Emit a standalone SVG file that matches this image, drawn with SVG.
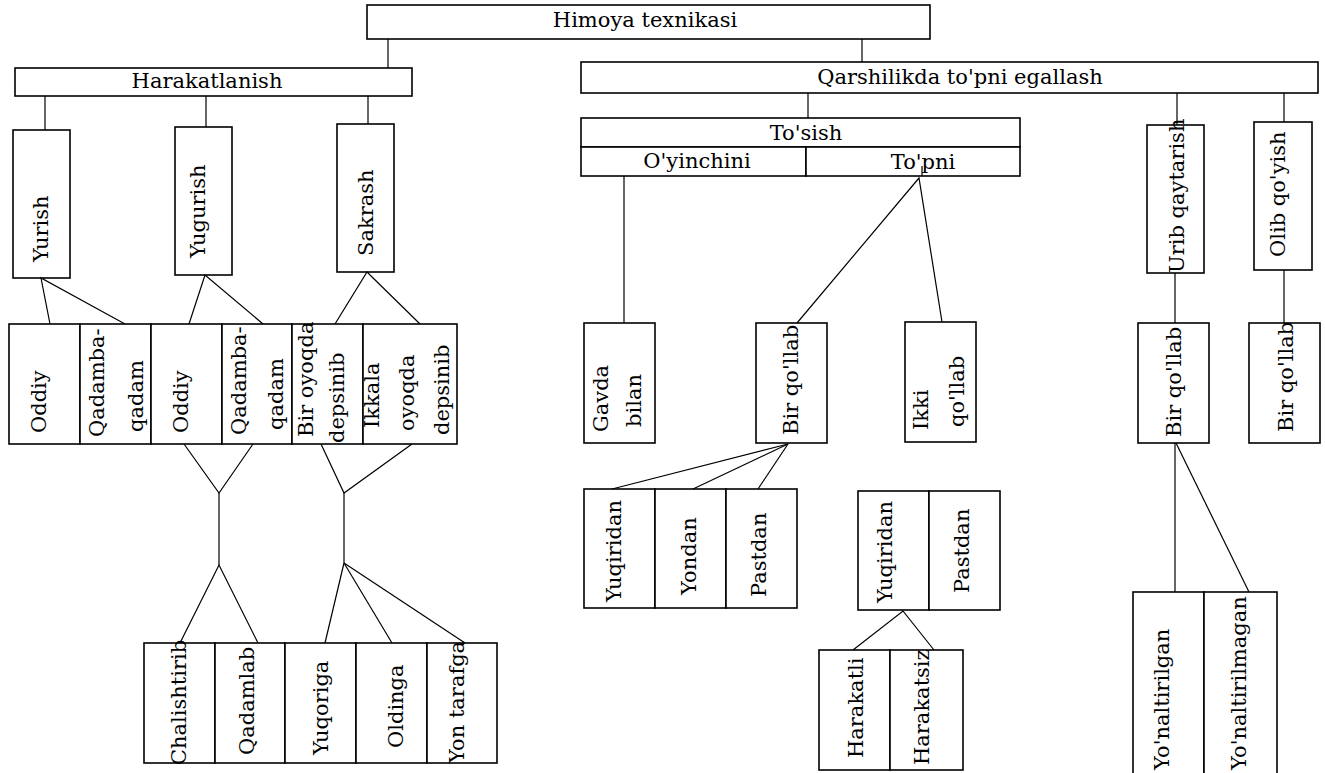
<svg xmlns="http://www.w3.org/2000/svg" width="1325" height="773" viewBox="0 0 1325 773">
<style>
.box{fill:#fff;stroke:#000;stroke-width:1.6}
.ln{stroke:#000;stroke-width:1.2;fill:none}
.t{font-family:"DejaVu Serif","Liberation Serif",serif;font-size:21px;fill:#000}
.c{text-anchor:middle}
</style>
<rect width="1325" height="773" fill="#fff"/>
<g id="n-himoya"><rect class="box" x="367" y="5" width="563" height="34"/><text class="t c" x="645" y="27">Himoya texnikasi</text></g>
<g id="n-harakatlanish"><rect class="box" x="15" y="68" width="397" height="28"/><text class="t c" x="207" y="88">Harakatlanish</text></g>
<g id="n-qarshilikda"><rect class="box" x="581" y="62" width="737" height="31"/><text class="t c" x="960" y="84">Qarshilikda to'pni egallash</text></g>
<g id="n-yurish"><rect class="box" x="13" y="130" width="57" height="148"/><text class="t" transform="translate(48,262) rotate(-90)">Yurish</text></g>
<g id="n-yugurish"><rect class="box" x="175" y="127" width="57" height="148"/><text class="t" transform="translate(205,258) rotate(-90)">Yugurish</text></g>
<g id="n-sakrash"><rect class="box" x="337" y="124" width="57" height="148"/><text class="t" transform="translate(373,256) rotate(-90)">Sakrash</text></g>
<g id="n-a1"><rect class="box" x="9" y="324" width="71" height="120"/><text class="t" transform="translate(46,433) rotate(-90)">Oddiy</text></g>
<g id="n-a2"><rect class="box" x="80" y="324" width="71" height="120"/><text class="t" transform="translate(104,437) rotate(-90)">Qadamba-</text><text class="t" transform="translate(143,432) rotate(-90)">qadam</text></g>
<g id="n-a3"><rect class="box" x="151" y="324" width="71" height="120"/><text class="t" transform="translate(188,433) rotate(-90)">Oddiy</text></g>
<g id="n-a4"><rect class="box" x="222" y="324" width="70" height="120"/><text class="t" transform="translate(246,435) rotate(-90)">Qadamba-</text><text class="t" transform="translate(283,430) rotate(-90)">qadam</text></g>
<g id="n-a5"><rect class="box" x="292" y="324" width="71" height="120"/><text class="t" transform="translate(313,437) rotate(-90)">Bir oyoqda</text><text class="t" transform="translate(344,443) rotate(-90)">depsinib</text></g>
<g id="n-a6"><rect class="box" x="363" y="324" width="94" height="120"/><text class="t" transform="translate(379,428) rotate(-90)">Ikkala</text><text class="t" transform="translate(414,431) rotate(-90)">oyoqda</text><text class="t" transform="translate(449,435) rotate(-90)">depsinib</text></g>
<g id="n-b1"><rect class="box" x="144" y="643" width="71" height="120"/><text class="t" transform="translate(186,765) rotate(-90)">Chalishtirib</text></g>
<g id="n-b2"><rect class="box" x="215" y="643" width="70" height="120"/><text class="t" transform="translate(254,755) rotate(-90)">Qadamlab</text></g>
<g id="n-b3"><rect class="box" x="285" y="643" width="71" height="120"/><text class="t" transform="translate(328,755) rotate(-90)">Yuqoriga</text></g>
<g id="n-b4"><rect class="box" x="356" y="643" width="71" height="120"/><text class="t" transform="translate(403,748) rotate(-90)">Oldinga</text></g>
<g id="n-b5"><rect class="box" x="427" y="643" width="70" height="120"/><text class="t" transform="translate(464,763) rotate(-90)">Yon tarafga</text></g>
<g id="n-tosish"><rect class="box" x="581" y="118" width="439" height="29"/><text class="t c" x="806" y="140">To'sish</text></g>
<g id="n-oyinchini"><rect class="box" x="581" y="147" width="225" height="29"/><text class="t c" x="697" y="168">O'yinchini</text></g>
<g id="n-topni"><rect class="box" x="806" y="147" width="214" height="29"/><text class="t c" x="923" y="169">To'pni</text></g>
<g id="n-gavda"><rect class="box" x="584" y="323" width="71" height="120"/><text class="t" transform="translate(608,432) rotate(-90)">Gavda</text><text class="t" transform="translate(641,427) rotate(-90)">bilan</text></g>
<g id="n-birqollab1"><rect class="box" x="756" y="323" width="71" height="120"/><text class="t" transform="translate(798,435) rotate(-90)">Bir qo'llab</text></g>
<g id="n-ikki"><rect class="box" x="905" y="322" width="71" height="120"/><text class="t" transform="translate(928,430) rotate(-90)">Ikki</text><text class="t" transform="translate(964,427) rotate(-90)">qo'llab</text></g>
<g id="n-c1"><rect class="box" x="584" y="489" width="71" height="119"/><text class="t" transform="translate(621,602) rotate(-90)">Yuqiridan</text></g>
<g id="n-c2"><rect class="box" x="655" y="489" width="71" height="119"/><text class="t" transform="translate(696,595) rotate(-90)">Yondan</text></g>
<g id="n-c3"><rect class="box" x="726" y="489" width="71" height="119"/><text class="t" transform="translate(766,597) rotate(-90)">Pastdan</text></g>
<g id="n-d1"><rect class="box" x="858" y="491" width="71" height="119"/><text class="t" transform="translate(892,603) rotate(-90)">Yuqiridan</text></g>
<g id="n-d2"><rect class="box" x="929" y="491" width="71" height="119"/><text class="t" transform="translate(969,593) rotate(-90)">Pastdan</text></g>
<g id="n-e1"><rect class="box" x="819" y="650" width="71" height="120"/><text class="t" transform="translate(863,758) rotate(-90)">Harakatli</text></g>
<g id="n-e2"><rect class="box" x="890" y="650" width="73" height="120"/><text class="t" transform="translate(929,765) rotate(-90)">Harakatsiz</text></g>
<g id="n-urib"><rect class="box" x="1147" y="125" width="57" height="148"/><text class="t" transform="translate(1184,273) rotate(-90)">Urib qaytarish</text></g>
<g id="n-olib"><rect class="box" x="1254" y="122" width="58" height="148"/><text class="t" transform="translate(1285,257) rotate(-90)">Olib qo'yish</text></g>
<g id="n-birqollab2"><rect class="box" x="1138" y="323" width="71" height="120"/><text class="t" transform="translate(1181,437) rotate(-90)">Bir qo'llab</text></g>
<g id="n-birqollab3"><rect class="box" x="1249" y="323" width="71" height="120"/><text class="t" transform="translate(1293,432) rotate(-90)">Bir qo'llab</text></g>
<g id="n-f1"><rect class="box" x="1133" y="592" width="71" height="190"/><text class="t" transform="translate(1169,770) rotate(-90)">Yo'naltirilgan</text></g>
<g id="n-f2"><rect class="box" x="1204" y="592" width="73" height="190"/><text class="t" transform="translate(1246,770) rotate(-90)">Yo'naltirilmagan</text></g>
<g id="connectors" class="ln">
<line x1="388" y1="39" x2="388" y2="68"/>
<line x1="862" y1="39" x2="862" y2="62"/>
<line x1="45" y1="96" x2="45" y2="130"/>
<line x1="206" y1="96" x2="206" y2="127"/>
<line x1="368" y1="96" x2="368" y2="124"/>
<polyline points="50,324 41,278 125,324"/>
<polyline points="189,324 205,275 263,324"/>
<polyline points="335,324 367,272 420,324"/>
<polyline points="184,444 219,493 253,444"/>
<line x1="219" y1="493" x2="219" y2="565"/>
<polyline points="180,643 219,565 258,643"/>
<polyline points="321,444 344,493 412,444"/>
<line x1="344" y1="493" x2="344" y2="563"/>
<line x1="344" y1="563" x2="325" y2="643"/>
<line x1="344" y1="563" x2="392" y2="643"/>
<line x1="344" y1="563" x2="465" y2="643"/>
<line x1="808" y1="93" x2="808" y2="118"/>
<line x1="624" y1="176" x2="624" y2="323"/>
<line x1="922" y1="166" x2="922" y2="176"/>
<polyline points="797,323 919,178 942,322"/>
<line x1="788" y1="444" x2="612" y2="489"/>
<line x1="788" y1="444" x2="693" y2="489"/>
<line x1="788" y1="444" x2="758" y2="489"/>
<polyline points="853,650 903,611 934,650"/>
<line x1="1177" y1="93" x2="1177" y2="125"/>
<line x1="1284" y1="93" x2="1284" y2="122"/>
<line x1="1175" y1="273" x2="1175" y2="323"/>
<line x1="1284" y1="270" x2="1284" y2="323"/>
<line x1="1175" y1="443" x2="1175" y2="592"/>
<line x1="1176" y1="443" x2="1249" y2="592"/>
</g>
</svg>
